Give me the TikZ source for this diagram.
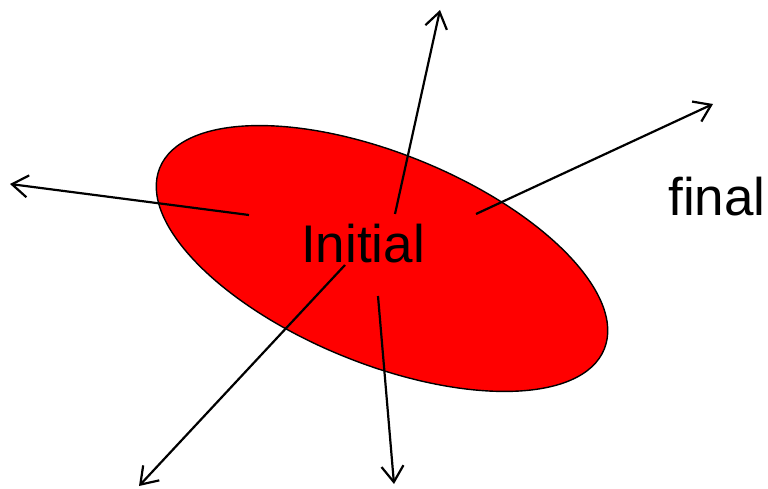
\documentclass[tikz,border=0pt]{standalone}
\usepackage{fontspec}
\setmainfont{Liberation Sans}
\usetikzlibrary{arrows.meta}
\begin{document}
\begin{tikzpicture}[x=1pt,y=-1pt,
  arr/.style={line width=2.2pt,-{Straight Barb[length=16pt,width=22pt,line width=2.2pt]}},
  lbl/.style={font=\fontsize{53}{60}\selectfont,inner sep=0pt,anchor=base}]
\useasboundingbox (0,0) rectangle (768,489);
\draw[fill=red,line width=1.4pt] (382,258.5) ellipse [x radius=240pt,y radius=105pt,rotate=-22.2];
\node[lbl] (init) at (363,262) {Initial};
\node[lbl] (fin) at (717,215) {final};
\coordinate (s1) at (249,215); \coordinate (e1) at (10,184);
\coordinate (s2) at (395,214); \coordinate (e2) at (440,10);
\coordinate (s3) at (476,214); \coordinate (e3) at (713,104);
\coordinate (s4) at (345,265); \coordinate (e4) at (139,486);
\coordinate (s5) at (378,296); \coordinate (e5) at (394,484);
\draw[arr] (s1) -- (e1);
\draw[arr] (s2) -- (e2);
\draw[arr] (s3) -- (e3);
\draw[arr] (s4) -- (e4);
\draw[arr] (s5) -- (e5);
\end{tikzpicture}
\end{document}
